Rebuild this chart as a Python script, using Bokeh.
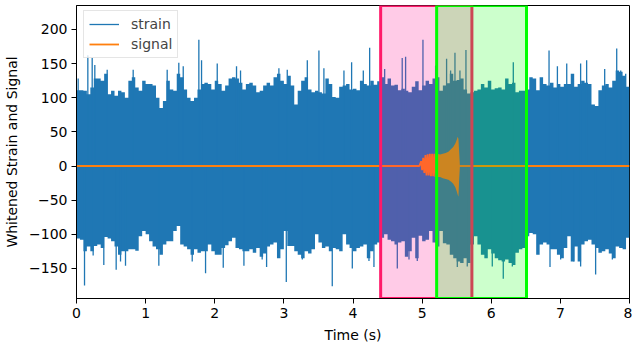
import numpy as np
from bokeh.plotting import figure
from bokeh.models import Range1d, FixedTicker, Legend, LegendItem
from bokeh.embed import file_html
from bokeh.resources import INLINE

# ---------------- data ----------------
T_START, T_END = 0.0, 8.0
Y_START, Y_END = -194, 235

# strain body: upper / lower level per 0.05 s bin (160 bins)
upper = [111, 111, 110, 105, 115, 128, 128, 125, 135, 105,
         110, 103, 110, 108, 100, 125, 130, 115, 110, 125,
         120, 120, 118, 100, 85, 95, 125, 112, 110, 135,
         130, 112, 100, 95, 100, 112, 120, 122, 120, 112,
         125, 120, 110, 118, 128, 130, 128, 122, 112, 120,
         122, 118, 108, 110, 118, 122, 118, 130, 135, 125,
         120, 132, 118, 90, 110, 125, 130, 112, 108, 110,
         108, 106, 128, 120, 101, 100, 116, 118, 120, 112,
         113, 111, 125, 120, 118, 125, 119, 124, 130, 120,
         128, 118, 119, 111, 113, 110, 108, 116, 124, 111,
         118, 125, 120, 128, 130, 110, 118, 121, 135, 125,
         126, 128, 112, 106, 108, 110, 112, 120, 115, 125,
         112, 114, 115, 112, 128, 120, 122, 108, 110, 110,
         112, 130, 128, 111, 130, 120, 118, 122, 115, 120,
         116, 120, 120, 135, 116, 120, 125, 122, 120, 90,
         88, 111, 118, 120, 115, 125, 140, 138, 132, 116]
lower = [-106, -108, -125, -118, -125, -117, -115, -120, -104, -106,
         -110, -118, -130, -125, -125, -122, -122, -124, -103, -95,
         -100, -110, -118, -122, -130, -115, -110, -110, -95, -88,
         -115, -118, -122, -130, -122, -127, -125, -125, -115, -125,
         -130, -130, -120, -116, -110, -105, -120, -122, -125, -125,
         -122, -127, -120, -133, -128, -118, -115, -112, -135, -122,
         -95, -117, -117, -125, -130, -135, -125, -128, -122, -100,
         -112, -120, -118, -125, -120, -122, -125, -100, -115, -120,
         -125, -120, -118, -115, -135, -125, -115, -112, -105, -100,
         -108, -110, -115, -112, -110, -133, -125, -105, -135, -102,
         -110, -108, -95, -112, -118, -95, -113, -115, -130, -135,
         -140, -142, -135, -142, -115, -103, -115, -130, -135, -122,
         -128, -135, -138, -140, -137, -142, -145, -127, -122, -120,
         -103, -98, -100, -130, -115, -112, -115, -122, -122, -130,
         -135, -120, -103, -140, -118, -140, -115, -110, -108, -115,
         -120, -127, -125, -122, -128, -135, -118, -120, -122, -105]

# thin strain spikes (time s, value)
spike_up_t = [0.024, 0.164, 0.227, 0.265, 0.444, 0.82, 1.312, 1.48, 1.544, 1.77,
              1.809, 2.036, 2.315, 2.373, 2.928, 3.049, 3.339, 3.507, 3.579, 3.869,
              3.98, 4.149, 4.241, 4.458, 4.712, 4.761, 5.012, 5.195, 5.354, 5.412,
              5.475, 5.547, 5.634, 6.319, 6.498, 6.836, 6.957, 7.092, 7.293, 7.38,
              7.641, 7.815, 7.873, 7.945]
spike_up_v = [128, 162, 158, 148, 141, 141, 141, 151, 146, 185,
              155, 150, 146, 140, 143, 141, 155, 169, 143, 140,
              152, 140, 173, 142, 158, 160, 185, 147, 157, 140,
              166, 140, 170, 152, 216, 169, 146, 150, 150, 155,
              142, 172, 140, 135]
spike_dn_t = [0.116, 0.241, 0.395, 0.574, 0.637, 0.709, 1.191, 1.674, 1.867, 2.123,
              2.422, 2.686, 2.75, 3.035, 3.267, 3.70, 3.99, 4.231, 4.303, 4.641,
              4.81, 4.93, 5.509, 5.653, 6.015, 6.174, 6.305, 6.85, 7.004, 7.197,
              7.293, 7.51, 7.752]
spike_dn_v = [-175, -131, -145, -152, -140, -146, -146, -140, -157, -149,
              -146, -137, -148, -170, -137, -176, -150, -139, -148, -150,
              -137, -139, -148, -147, -147, -165, -147, -148, -137, -140,
              -147, -159, -137]

# signal: chirp cycles, then dense part given by its envelope
chirp_t = [4.96, 4.985, 5.0, 5.016, 5.032, 5.048, 5.064, 5.08, 5.096, 5.112,
           5.128, 5.144, 5.16, 5.176, 5.192, 5.208, 5.222]
chirp_v = [0, 7, -6, 12, -10, 16, -14, 17, -14, 18,
           -15, 18, -15, 18, -16, 18, -16]
env_t = [5.22, 5.26, 5.30, 5.34, 5.38, 5.42, 5.45, 5.48, 5.50, 5.515, 5.525, 5.535, 5.545]
env_hi = [18, 17, 18, 19, 21, 25, 28, 33, 38, 43, 40, 22, 3]
env_lo = [-16, -16, -18, -19, -20, -23, -26, -31, -37, -42, -45, -22, -3]

pink_span = (4.40, 5.72)
green_span = (5.21, 6.51)

xticks = [0, 1, 2, 3, 4, 5, 6, 7, 8]
yticks = [-150, -100, -50, 0, 50, 100, 150, 200]

BLUE = "#1f77b4"
ORANGE = "#ff7f0e"
FONT = "DejaVu Sans"

# ---------------- figure ----------------
p = figure(width=632, height=345, output_backend="svg", toolbar_location=None,
           x_range=Range1d(T_START, T_END), y_range=Range1d(Y_START, Y_END),
           min_border_left=76, min_border_right=3, min_border_top=5, min_border_bottom=46)
p.background_fill_color = "white"
p.border_fill_color = "white"
p.outline_line_color = "black"
p.outline_line_width = 1
p.xgrid.visible = False
p.ygrid.visible = False

# strain body as step area
n = len(upper)
edges = np.linspace(T_START, T_END, n + 1)
xs = np.repeat(edges, 2)[1:-1]
p.varea(x=xs, y1=np.repeat(lower, 2), y2=np.repeat(upper, 2), fill_color=BLUE)
strain_r = p.segment(x0=spike_up_t, y0=[0] * len(spike_up_t), x1=spike_up_t, y1=spike_up_v,
                     line_color=BLUE, line_width=1.3)
p.segment(x0=spike_dn_t, y0=[0] * len(spike_dn_t), x1=spike_dn_t, y1=spike_dn_v,
          line_color=BLUE, line_width=1.3)

# signal
sig_t = [T_START] + chirp_t + env_t + [5.55, T_END]
sig_v = [0] + chirp_v + [0] * len(env_t) + [0, 0]
p.varea(x=env_t, y1=env_lo, y2=env_hi, fill_color=ORANGE)
signal_r = p.line(sig_t, sig_v, line_color=ORANGE, line_width=1.8)

# highlighted spans
p.quad(left=[pink_span[0]], right=[pink_span[1]], bottom=[Y_START], top=[Y_END],
       fill_color="#ff1493", fill_alpha=0.22, line_color="#ff1a6a", line_width=3)
p.quad(left=[green_span[0]], right=[green_span[1]], bottom=[Y_START], top=[Y_END],
       fill_color="#00ff00", fill_alpha=0.2, line_color="#00ff00", line_width=3)

# axes
for ax in (p.xaxis[0], p.yaxis[0]):
    ax.major_label_text_font = FONT
    ax.major_label_text_font_size = "14px"
    ax.major_label_text_color = "black"
    ax.axis_label_text_font = FONT
    ax.axis_label_text_font_size = "14px"
    ax.axis_label_text_font_style = "normal"
    ax.axis_label_text_color = "black"
    ax.axis_line_color = "black"
    ax.major_tick_line_color = "black"
    ax.major_tick_out = 5
    ax.major_tick_in = 0
    ax.minor_tick_line_color = None
    ax.major_label_standoff = 4
    ax.axis_label_standoff = 6

p.xaxis.ticker = FixedTicker(ticks=xticks)
p.yaxis.ticker = FixedTicker(ticks=yticks)
p.yaxis.major_label_overrides = {v: (str(v).replace("-", "\u2212")) for v in yticks}
p.xaxis.axis_label = "Time (s)"
p.yaxis.axis_label = "Whitened Strain and Signal"

legend = Legend(items=[LegendItem(label="strain", renderers=[strain_r]),
                       LegendItem(label="signal", renderers=[signal_r])],
                location=(7, 240), margin=0, padding=5, spacing=4,
                glyph_width=30, glyph_height=16, label_height=16, label_standoff=12,
                label_text_font=FONT, label_text_font_size="14px",
                border_line_color="#cccccc", border_line_width=1,
                background_fill_color="white", background_fill_alpha=0.8)
p.add_layout(legend)

open("out.html", "w").write(file_html(p, INLINE))
